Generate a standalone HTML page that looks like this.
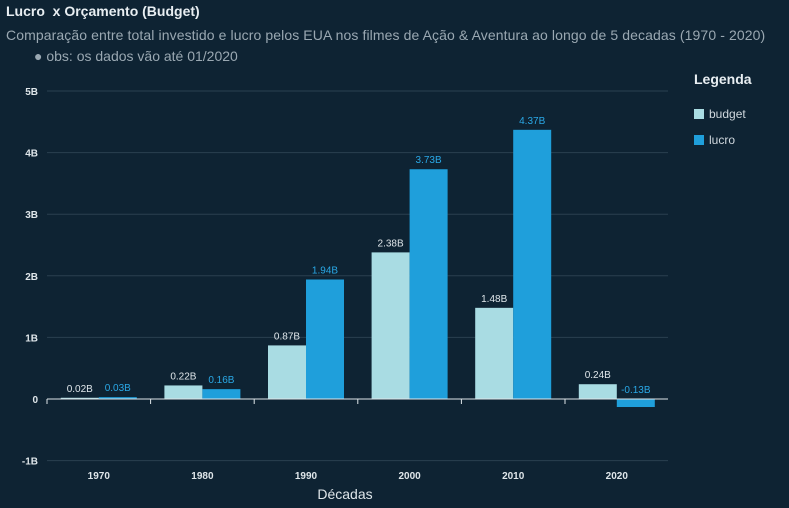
<!DOCTYPE html>
<html><head><meta charset="utf-8"><style>
body{margin:0;width:789px;height:508px;background:#0e2333;overflow:hidden;font-family:"Liberation Sans",sans-serif}
.t{position:absolute;white-space:nowrap}
</style></head><body>
<div class="t" style="left:6px;top:3px;font-size:14px;font-weight:bold;color:#e8eef2">Lucro&nbsp; x Orçamento (Budget)</div>
<div class="t" style="left:6px;top:27px;font-size:14px;letter-spacing:0.1px;color:#9aa8b2">Comparação entre total investido e lucro pelos EUA nos filmes de Ação &amp; Aventura ao longo de 5 decadas (1970 - 2020)</div>
<div class="t" style="left:34px;top:48px;font-size:14px;color:#9aa8b2">● obs: os dados vão até 01/2020</div>
<div class="t" style="left:694px;top:71px;font-size:14px;font-weight:bold;color:#e8eef2">Legenda</div>
<div class="t" style="left:694px;top:107px;font-size:12px;color:#d0d8de"><span style="display:inline-block;width:10px;height:10px;background:#a9dce3;margin-right:5px;vertical-align:-1px"></span>budget</div>
<div class="t" style="left:694px;top:133px;font-size:12px;color:#d0d8de"><span style="display:inline-block;width:10px;height:10px;background:#1f9fdb;margin-right:5px;vertical-align:-1px"></span>lucro</div>
<svg id="c" width="789" height="508" style="position:absolute;left:0;top:0"></svg>
<script>
const categories=["1970","1980","1990","2000","2010","2020"];
const budget=[0.02,0.22,0.87,2.38,1.48,0.24];
const lucro=[0.03,0.16,1.94,3.73,4.37,-0.13];
const ticks=[-1,0,1,2,3,4,5];
const svg=document.getElementById('c');const NS='http://www.w3.org/2000/svg';
const y=v=>399-v*61.6;
const x0=47,band=103.6,bw=38;
const xc=i=>x0+band*(i+0.5);
function mk(t,a,txt){const e=document.createElementNS(NS,t);for(const k in a)e.setAttribute(k,a[k]);if(txt!=null)e.textContent=txt;svg.appendChild(e);return e;}
ticks.forEach(t=>{
 if(t!==0){const g=mk('line',{x1:47,x2:668,y1:y(t),y2:y(t),stroke:'#2a4050','stroke-width':1});
 
 }
 const l=mk('text',{x:38,y:y(t)+4,'text-anchor':'end',fill:'#dfe6ea','font-size':10,'font-weight':'bold','font-family':'Liberation Sans'},t===0?'0':t+'B');
 
 
});
const fmt=v=>v.toFixed(2)+'B';
categories.forEach((c,i)=>{
 const cx=xc(i);
 const b=mk('rect',{x:cx-bw,y:Math.min(y(budget[i]),y(0)),width:bw,height:Math.abs(y(budget[i])-y(0)),fill:'#a9dce3'});
 
 
 const r=mk('rect',{x:cx,y:Math.min(y(lucro[i]),y(0)),width:bw,height:Math.abs(y(lucro[i])-y(0)),fill:'#1f9fdb'});
 
 
 const bl=mk('text',{x:cx-bw/2,y:y(Math.max(budget[i],0))-6,'text-anchor':'middle',fill:'#dfe6ea','font-size':10,'font-family':'Liberation Sans'},fmt(budget[i]));
 
 
 const ll=mk('text',{x:cx+bw/2,y:y(Math.max(lucro[i],0))-6,'text-anchor':'middle',fill:'#2aa8e6','font-size':10,'font-family':'Liberation Sans'},fmt(lucro[i]));
 
 
 const xl=mk('text',{x:cx,y:479,'text-anchor':'middle',fill:'#dfe6ea','font-size':10,'font-weight':'bold','font-family':'Liberation Sans'},c);
 
 
 const tk=mk('line',{x1:x0+band*i,x2:x0+band*i,y1:399,y2:404,stroke:'#dfe6ea'});
 
 
});
const ax=mk('line',{x1:47,x2:668,y1:399,y2:399,stroke:'#dfe6ea','stroke-width':1});


const xt=mk('text',{x:345,y:499,'text-anchor':'middle',fill:'#dfe6ea','font-size':14,'font-family':'Liberation Sans'},'Décadas');


</script>
</body></html>
